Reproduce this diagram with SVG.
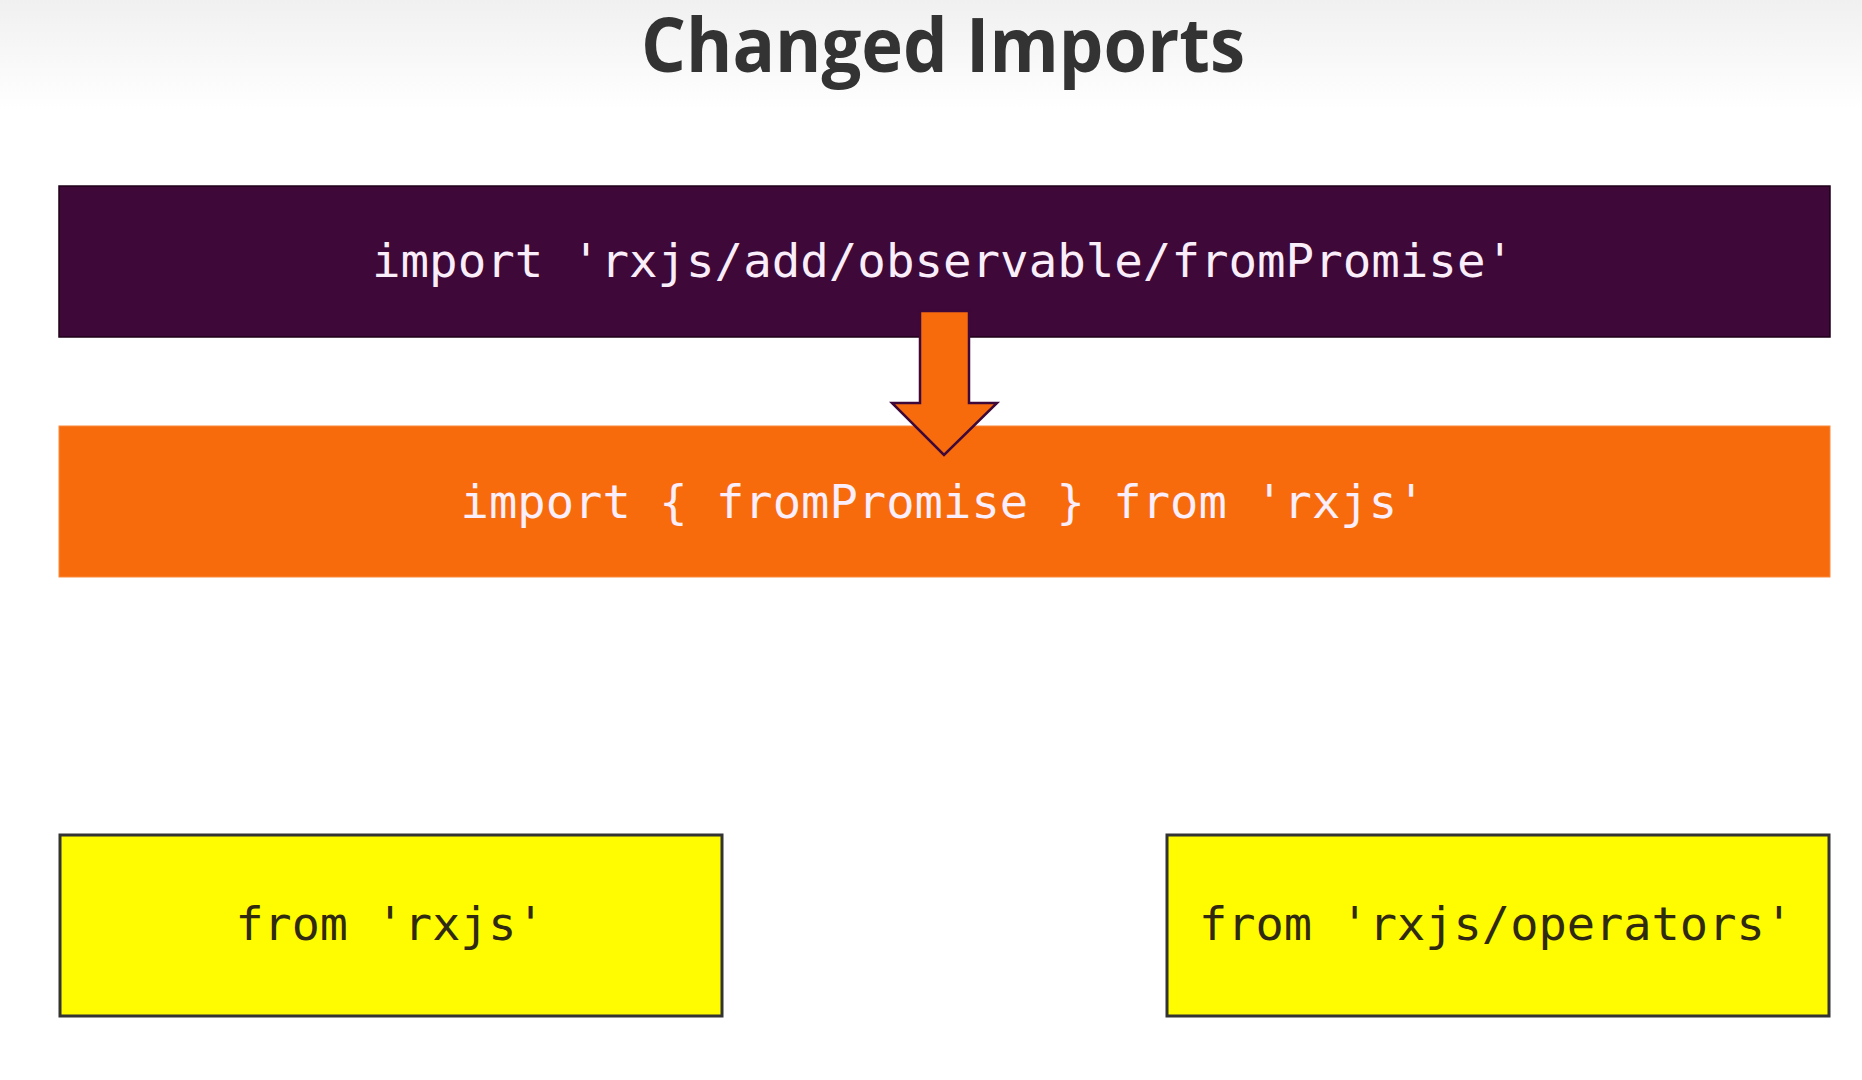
<svg xmlns="http://www.w3.org/2000/svg" width="1862" height="1080" viewBox="0 0 1862 1080">
<defs>
<linearGradient id="topfade" x1="0" y1="0" x2="0" y2="1">
<stop offset="0" stop-color="#f0f0f0"/>
<stop offset="1" stop-color="#ffffff"/>
</linearGradient>
</defs>
<style>
.code{font-family:"DejaVu Sans Mono","Liberation Mono",monospace;font-size:46px;text-anchor:middle}
.light{fill:#fbeefb}
.dark{fill:#2f2a10}
.title{font-family:"Open Sans","Liberation Sans",sans-serif;font-weight:bold;font-size:76px;fill:#333333;text-anchor:middle}
.ybox{fill:#fffb00;stroke:#333333;stroke-width:3}
</style>
<rect x="0" y="0" width="1862" height="1080" fill="#ffffff"/>
<rect x="0" y="0" width="1862" height="110" fill="url(#topfade)"/>
<g id="title">
<text class="title" x="943" y="72" textLength="604" lengthAdjust="spacingAndGlyphs">Changed Imports</text>
</g>
<g id="old-import">
<rect x="59" y="186" width="1771" height="151" fill="#3e0838" stroke="#1f0019" stroke-width="1.5"/>
<text class="code light" x="943" y="277" textLength="1142" lengthAdjust="spacingAndGlyphs">import 'rxjs/add/observable/fromPromise'</text>
</g>
<g id="new-import">
<rect x="59" y="426" width="1771" height="151" fill="#f76b0c" stroke="#f98a3a" stroke-width="1"/>
<text class="code light" x="943" y="518" textLength="965" lengthAdjust="spacingAndGlyphs">import { fromPromise } from 'rxjs'</text>
</g>
<g id="connectors">
<path d="M920,311 L969,311 L969,403 L997,403 L944,455 L892,403 L920,403 Z" fill="#f76b0c" stroke="#3e0838" stroke-width="2.5" stroke-linejoin="miter"/>
</g>
<g id="from-rxjs">
<rect class="ybox" x="60" y="835" width="662" height="181"/>
<text class="code dark" x="390" y="940" textLength="309" lengthAdjust="spacingAndGlyphs">from 'rxjs'</text>
</g>
<g id="from-rxjs-operators">
<rect class="ybox" x="1167" y="835" width="662" height="181"/>
<text class="code dark" x="1496" y="940" textLength="594" lengthAdjust="spacingAndGlyphs">from 'rxjs/operators'</text>
</g>
</svg>
